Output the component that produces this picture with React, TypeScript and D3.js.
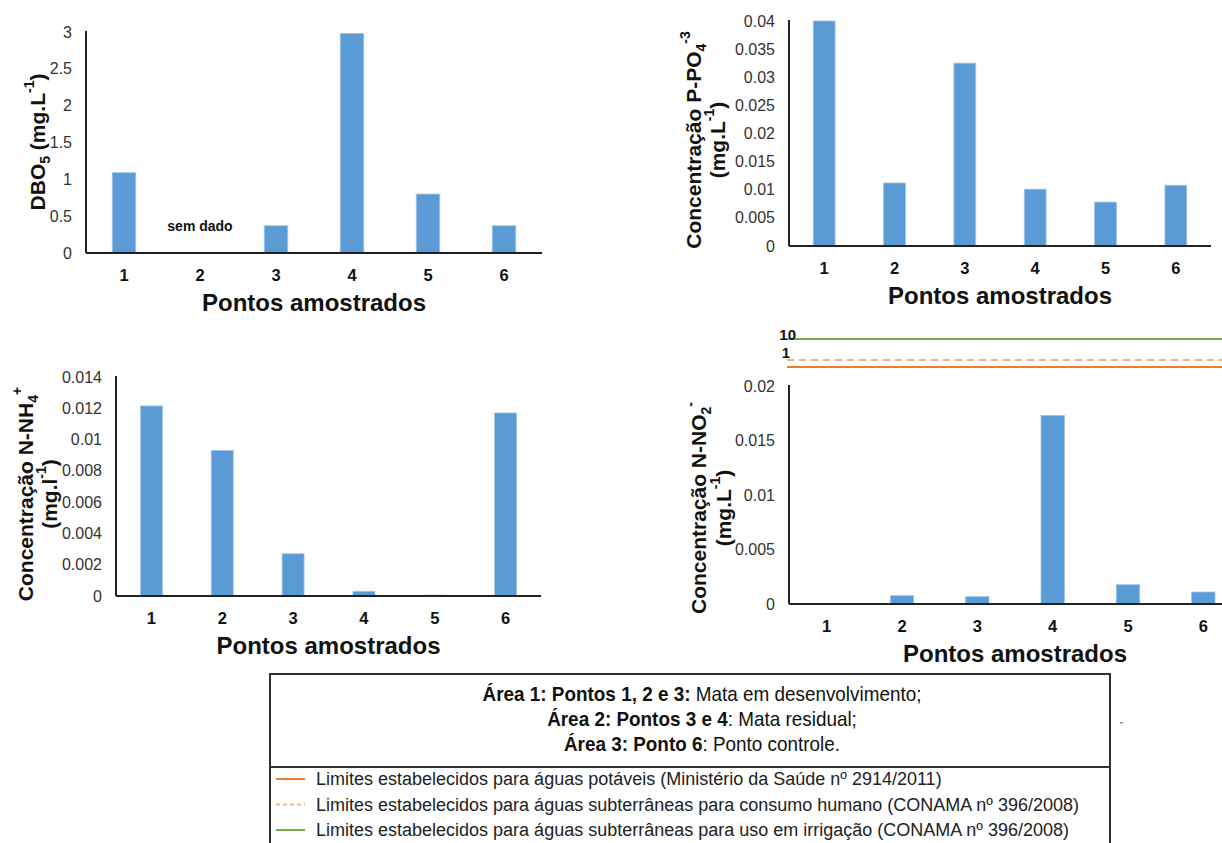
import React from "react";
import * as d3 from "d3";

// dados
const pontos = ["1", "2", "3", "4", "5", "6"];
const dbo5 = [1.09, null, 0.37, 2.98, 0.8, 0.37];
const fosfato = [0.04, 0.0112, 0.0325, 0.0101, 0.0078, 0.0108];
const amonio = [0.01215, 0.0093, 0.0027, 0.0003, 0.00006, 0.0117];
const nitrito = [0, 0.00076, 0.00067, 0.0173, 0.00177, 0.0011];

const limiteValores = [1, 1, 10];
const limiteNomes = [
  "Limites estabelecidos para águas potáveis (Ministério da Saúde nº 2914/2011)",
  "Limites estabelecidos para águas subterrâneas para consumo humano (CONAMA nº 396/2008)",
  "Limites estabelecidos para águas subterrâneas para uso em irrigação (CONAMA nº 396/2008)",
];
const limiteCores = ["#ED7D31", "#F4B183", "#70AD47"];
const limiteTracos = [null, "7,5", null];

const areas = [
  { forte: "Área 1: Pontos 1, 2 e 3:", resto: " Mata em desenvolvimento;" },
  { forte: "Área 2: Pontos 3 e 4", resto: ": Mata residual;" },
  { forte: "Área 3: Ponto 6", resto: ": Ponto controle." },
];

const FONTE = "'Liberation Sans', Arial, sans-serif";
const AZUL = "#5B9BD5";
const EIXO = "#222";

const fmt = (v) => String(+v.toFixed(6));

function Painel({ valores, yMax, passo, x0, x1, yTop, yBot, titulo, tituloX, tituloCy, semDado }) {
  const x = d3.scaleBand().domain(pontos).range([x0, x1]).paddingInner(0.69).paddingOuter(0.345);
  const y = d3.scaleLinear().domain([0, yMax]).range([yBot, yTop]);
  const ticks = d3.range(0, Math.round(yMax / passo) + 1).map((i) => i * passo);
  const meio = (x0 + x1) / 2;

  return (
    <g>
      {valores.map((v, i) =>
        v == null ? null : (
          <rect
            key={i}
            x={x(pontos[i])}
            y={y(v)}
            width={x.bandwidth()}
            height={yBot - y(v)}
            fill={AZUL}
            stroke="#9fc3e7"
            strokeWidth={0.8}
          />
        )
      )}
      {semDado &&
        valores.map((v, i) =>
          v == null ? (
            <text key={"sd" + i} x={x(pontos[i]) + x.bandwidth() / 2} y={yBot - 22} textAnchor="middle"
              fontFamily={FONTE} fontWeight="bold" fontSize={14} fill="#111">
              sem dado
            </text>
          ) : null
        )}
      <line x1={x0} x2={x0} y1={yTop - 1} y2={yBot} stroke={EIXO} strokeWidth={2} />
      <line x1={x0} x2={x1} y1={yBot} y2={yBot} stroke={EIXO} strokeWidth={2} />
      {ticks.map((t) => (
        <text key={t} x={x0 - 14} y={y(t)} dy="0.35em" textAnchor="end" fontFamily={FONTE} fontSize={16} fill="#333">
          {fmt(t)}
        </text>
      ))}
      {pontos.map((p) => (
        <text key={p} x={x(p) + x.bandwidth() / 2} y={yBot + 28} textAnchor="middle" fontFamily={FONTE}
          fontWeight="bold" fontSize={16.5} fill="#111">
          {p}
        </text>
      ))}
      <text x={meio} y={yBot + 58} textAnchor="middle" fontFamily={FONTE} fontWeight="bold" fontSize={24} fill="#111">
        Pontos amostrados
      </text>
      {titulo.map((linha, k) => (
        <text key={k} transform={`translate(${tituloX[k]},${tituloCy}) rotate(-90)`} textAnchor="middle"
          dominantBaseline="central" fontFamily={FONTE} fontWeight="bold" fontSize={21} fill="#111">
          {linha}
        </text>
      ))}
    </g>
  );
}

const sub = (t) => <tspan baselineShift="sub" fontSize={14}>{t}</tspan>;
const sup = (t) => <tspan baselineShift="super" fontSize={14}>{t}</tspan>;

export default function App() {
  // escala da faixa de limites acima do gráfico de nitrito
  const yLim = d3.scaleLog().domain([1, 10]).range([363.5, 339]);
  const desvio = [3.5, -3.5, 0];

  return (
    <svg width={1222} height={843} style={{ position: "absolute", left: 0, top: 0, background: "#fff" }}>
      <rect width={1222} height={843} fill="#fff" />
      <Painel valores={dbo5} yMax={3} passo={0.5} x0={86} x1={542} yTop={32} yBot={253}
        titulo={[<>DBO{sub("5")}<tspan> (mg.L</tspan>{sup("-1")}<tspan>)</tspan></>]}
        tituloX={[37]} tituloCy={142} semDado />
      <Painel valores={fosfato} yMax={0.04} passo={0.005} x0={789} x1={1211} yTop={21} yBot={246}
        titulo={[
          <>Concentração P-PO{sub("4")}{sup("-3")}</>,
          <>(mg.L{sup("-1")}<tspan>)</tspan></>,
        ]}
        tituloX={[693, 717]} tituloCy={140} />
      <Painel valores={amonio} yMax={0.014} passo={0.002} x0={116} x1={541} yTop={377} yBot={596}
        titulo={[
          <>Concentração N-NH{sub("4")}{sup("+")}</>,
          <>(mg.l{sup("-1")}<tspan>)</tspan></>,
        ]}
        tituloX={[25, 49]} tituloCy={494} />
      <Painel valores={nitrito} yMax={0.02} passo={0.005} x0={789} x1={1241} yTop={386} yBot={604}
        titulo={[
          <>Concentração N-NO{sub("2")}{sup("-")}</>,
          <>(mg.L{sup("-1")}<tspan>)</tspan></>,
        ]}
        tituloX={[698, 723]} tituloCy={508} />

      {/* limites */}
      {limiteValores.map((v, i) => (
        <line key={i} x1={787} x2={1222} y1={yLim(v) + desvio[i]} y2={yLim(v) + desvio[i]}
          stroke={limiteCores[i]} strokeWidth={2.2} strokeDasharray={limiteTracos[i] || undefined} />
      ))}
      <text x={796} y={yLim(10) + 1} textAnchor="end" fontFamily={FONTE} fontWeight="bold" fontSize={15} fill="#111">10</text>
      <text x={790} y={yLim(1) - 6} textAnchor="end" fontFamily={FONTE} fontWeight="bold" fontSize={15} fill="#111">1</text>

      {/* legenda */}
      <rect x={270} y={674} width={840} height={190} fill="#fff" stroke="#333" strokeWidth={2} />
      <line x1={270} x2={1110} y1={767} y2={767} stroke="#333" strokeWidth={2} />
      {areas.map((a, i) => (
        <text key={i} transform={`translate(702,${701 + i * 25}) scale(0.9,1)`} textAnchor="middle"
          fontFamily={FONTE} fontSize={21} fill="#111">
          <tspan fontWeight="bold">{a.forte}</tspan>
          <tspan>{a.resto}</tspan>
        </text>
      ))}
      {limiteNomes.map((n, i) => (
        <g key={i} transform={`translate(0,${785 + i * 25.5})`}>
          <line x1={276} x2={305} y1={-6} y2={-6} stroke={limiteCores[i]} strokeWidth={2}
            strokeDasharray={limiteTracos[i] ? "4,3" : undefined} />
          <text x={316} y={0} fontFamily={FONTE} fontSize={18} fill="#222">{n}</text>
        </g>
      ))}
      <rect x={1120} y={722} width={3} height={1.5} fill="#888" />
    </svg>
  );
}
